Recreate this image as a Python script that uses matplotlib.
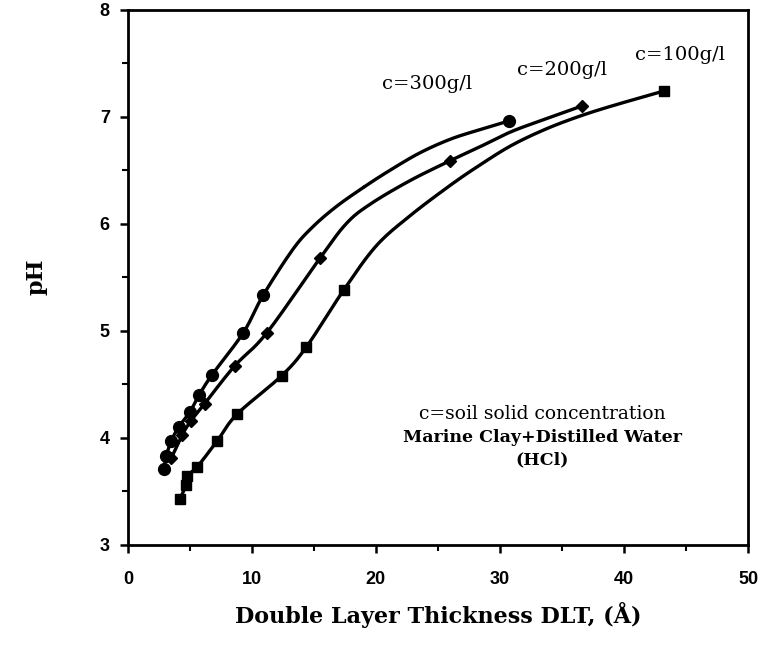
import numpy as np
import matplotlib
matplotlib.use('Agg')
import matplotlib.pyplot as plt

# marker points
x300 = [2.9, 3.1, 3.5, 4.1, 5.0, 5.75, 6.8, 9.3, 10.9, 30.7]
y300 = [3.71, 3.83, 3.97, 4.10, 4.24, 4.40, 4.59, 4.98, 5.33, 6.96]
x200 = [3.5, 4.4, 5.1, 6.2, 8.6, 11.2, 15.5, 26.0, 36.6]
y200 = [3.81, 4.03, 4.16, 4.32, 4.67, 4.98, 5.68, 6.59, 7.10]
x100 = [4.2, 4.7, 4.75, 5.6, 7.2, 8.8, 12.4, 14.4, 17.4, 43.2]
y100 = [3.43, 3.56, 3.64, 3.73, 3.97, 4.22, 4.58, 4.85, 5.38, 7.24]

# path of the hand drawn curves between the markers
cx300 = [13.3, 14.9, 16.8, 19.0, 21.0, 23.5, 26.0, 28.4]
cy300 = [5.76, 5.97, 6.16, 6.34, 6.49, 6.66, 6.79, 6.88]
cx200 = [17.6, 19.5, 22.7, 28.4, 30.9, 33.7]
cy200 = [6.00, 6.18, 6.40, 6.72, 6.86, 6.98]
cx100 = [20.0, 22.7, 26.0, 28.4, 30.9, 33.6, 36.3, 39.0]
cy100 = [5.79, 6.07, 6.36, 6.55, 6.73, 6.88, 7.00, 7.10]

labels = ['c=300g/l', 'c=200g/l', 'c=100g/l']

serif = ['DejaVu Serif']
plt.rcParams['font.family'] = ['Liberation Sans', 'DejaVu Sans']

fig = plt.figure(figsize=(7.61, 6.47), dpi=100)
ax = fig.add_axes([0.168, 0.158, 0.815, 0.827])

def smooth(xs, ys):
    # Catmull-Rom through the points, only for drawing the line
    p = np.column_stack([xs, ys])
    p = np.vstack([p[0], p, p[-1]])
    out = []
    for i in range(1, len(p) - 2):
        p0, p1, p2, p3 = p[i-1], p[i], p[i+1], p[i+2]
        t = np.linspace(0, 1, 20)[:, None]
        seg = 0.5*((2*p1) + (-p0+p2)*t + (2*p0-5*p1+4*p2-p3)*t**2 + (-p0+3*p1-3*p2+p3)*t**3)
        out.append(seg)
    out = np.vstack(out)
    return out[:, 0], out[:, 1]

series = [(x300, y300, cx300, cy300, 'o', 8.5),
          (x200, y200, cx200, cy200, 'D', 6),
          (x100, y100, cx100, cy100, 's', 7.5)]
for xs, ys, cx, cy, m, ms in series:
    allx = np.array(xs + cx)
    ally = np.array(ys + cy)
    order = np.argsort(allx)
    lx, ly = smooth(allx[order], ally[order])
    ax.plot(lx, ly, color='black', lw=2.4, solid_capstyle='round')
    ax.plot(xs, ys, linestyle='none', marker=m, ms=ms, color='black')

ax.set_xlim(0, 50)
ax.set_ylim(3, 8)
ax.set_xticks(np.arange(0, 51, 10))
ax.set_yticks(np.arange(3, 9, 1))
ax.set_xticks(np.arange(5, 50, 10), minor=True)
ax.set_yticks(np.arange(3.5, 8, 1), minor=True)
ax.tick_params(which='major', direction='out', length=6, width=1.8, labelsize=13)
ax.tick_params(axis='x', which='major', pad=13)
ax.tick_params(axis='y', which='major', pad=7)
ax.tick_params(which='minor', direction='out', length=4, width=1.5)
for lab in ax.get_xticklabels() + ax.get_yticklabels():
    lab.set_fontweight('bold')
for s in ax.spines.values():
    s.set_linewidth(2.0)

ax.set_xlabel('Double Layer Thickness DLT, (Å)', family=serif, fontweight='bold', fontsize=16, labelpad=10)
ax.set_ylabel('pH', family=serif, fontweight='bold', fontsize=16, labelpad=38)

ax.text(24.1, 7.31, labels[0], family=serif, fontsize=14, ha='center', va='center')
ax.text(35.0, 7.44, labels[1], family=serif, fontsize=14, ha='center', va='center')
ax.text(44.5, 7.58, labels[2], family=serif, fontsize=14, ha='center', va='center')

ax.text(33.4, 4.22, 'c=soil solid concentration', family=serif, fontsize=13.5, ha='center', va='center')
ax.text(33.4, 4.00, 'Marine Clay+Distilled Water', family=serif, fontsize=12.5, fontweight='bold', ha='center', va='center')
ax.text(33.4, 3.79, '(HCl)', family=serif, fontsize=12.5, fontweight='bold', ha='center', va='center')

fig.savefig('out.png', dpi=100)
